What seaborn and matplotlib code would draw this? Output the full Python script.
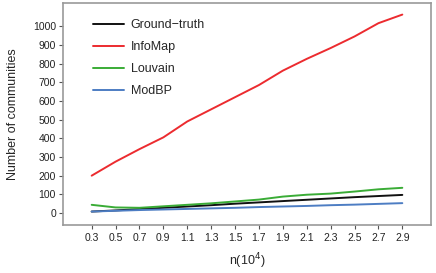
import matplotlib
matplotlib.use("Agg")
import matplotlib.pyplot as plt
import seaborn as sns
import pandas as pd

n_values = [0.3, 0.5, 0.7, 0.9, 1.1, 1.3, 1.5, 1.7, 1.9, 2.1, 2.3, 2.5, 2.7, 2.9]
ground_truth = [8, 14, 21, 28, 35, 42, 50, 57, 64, 71, 78, 85, 91, 97]
infomap = [200, 275, 342, 405, 490, 555, 620, 685, 762, 825, 883, 945, 1016, 1062]
louvain = [44, 30, 28, 36, 44, 52, 62, 72, 88, 98, 104, 115, 127, 135]
modbp = [8, 12, 16, 19, 22, 25, 28, 32, 35, 38, 42, 45, 49, 53]
methods = ["Ground\u2212truth", "InfoMap", "Louvain", "ModBP"]
y_ticks = [0, 100, 200, 300, 400, 500, 600, 700, 800, 900, 1000]

series = [ground_truth, infomap, louvain, modbp]
rows = []
for m, vals in zip(methods, series):
    for x, v in zip(n_values, vals):
        rows.append({"n": x, "count": v, "method": m})
df = pd.DataFrame(rows)

sns.set_theme(style="white", rc={
    "xtick.bottom": True, "ytick.left": True,
    "xtick.major.size": 3, "ytick.major.size": 3,
    "xtick.major.width": 0.8, "ytick.major.width": 0.8,
    "xtick.color": "#555555", "ytick.color": "#555555",
})
plt.rcParams['font.family'] = ['Liberation Sans', 'DejaVu Sans']

fig = plt.figure(figsize=(4.36, 2.73), dpi=100)
ax = fig.add_axes([63/436, 1 - 225/273, (431-63)/436, (225-3)/273])

palette = {"Ground\u2212truth": "#111111", "InfoMap": "#ec2b2f",
           "Louvain": "#3aac36", "ModBP": "#4d7dc3"}
sns.lineplot(data=df, x="n", y="count", hue="method", palette=palette,
             linewidth=1.4, ax=ax)

ax.set_xlim(0.06, 3.14)
ax.set_ylim(-64, 1124)
ax.set_xticks(n_values)
ax.set_xticklabels([f"{v:.1f}" for v in n_values])
ax.set_yticks(y_ticks)
ax.tick_params(axis='both', labelsize=7.5, labelcolor="#222222", pad=3)
ax.tick_params(axis='y', pad=2)
for s in ax.spines.values():
    s.set_color("#999999")
    s.set_linewidth(1.2)

ax.set_xlabel("n(10$^{4}$)", fontsize=9, labelpad=6)
ax.set_ylabel("Number of communities", fontsize=9, labelpad=10)

leg = ax.legend(loc="upper left", frameon=False, fontsize=9, handlelength=2.5,
                handletextpad=0.5, labelspacing=0.8,
                bbox_to_anchor=(0.068, 0.95), borderaxespad=0)
for line in leg.get_lines():
    line.set_linewidth(1.4)

fig.savefig("out.png", dpi=100)
